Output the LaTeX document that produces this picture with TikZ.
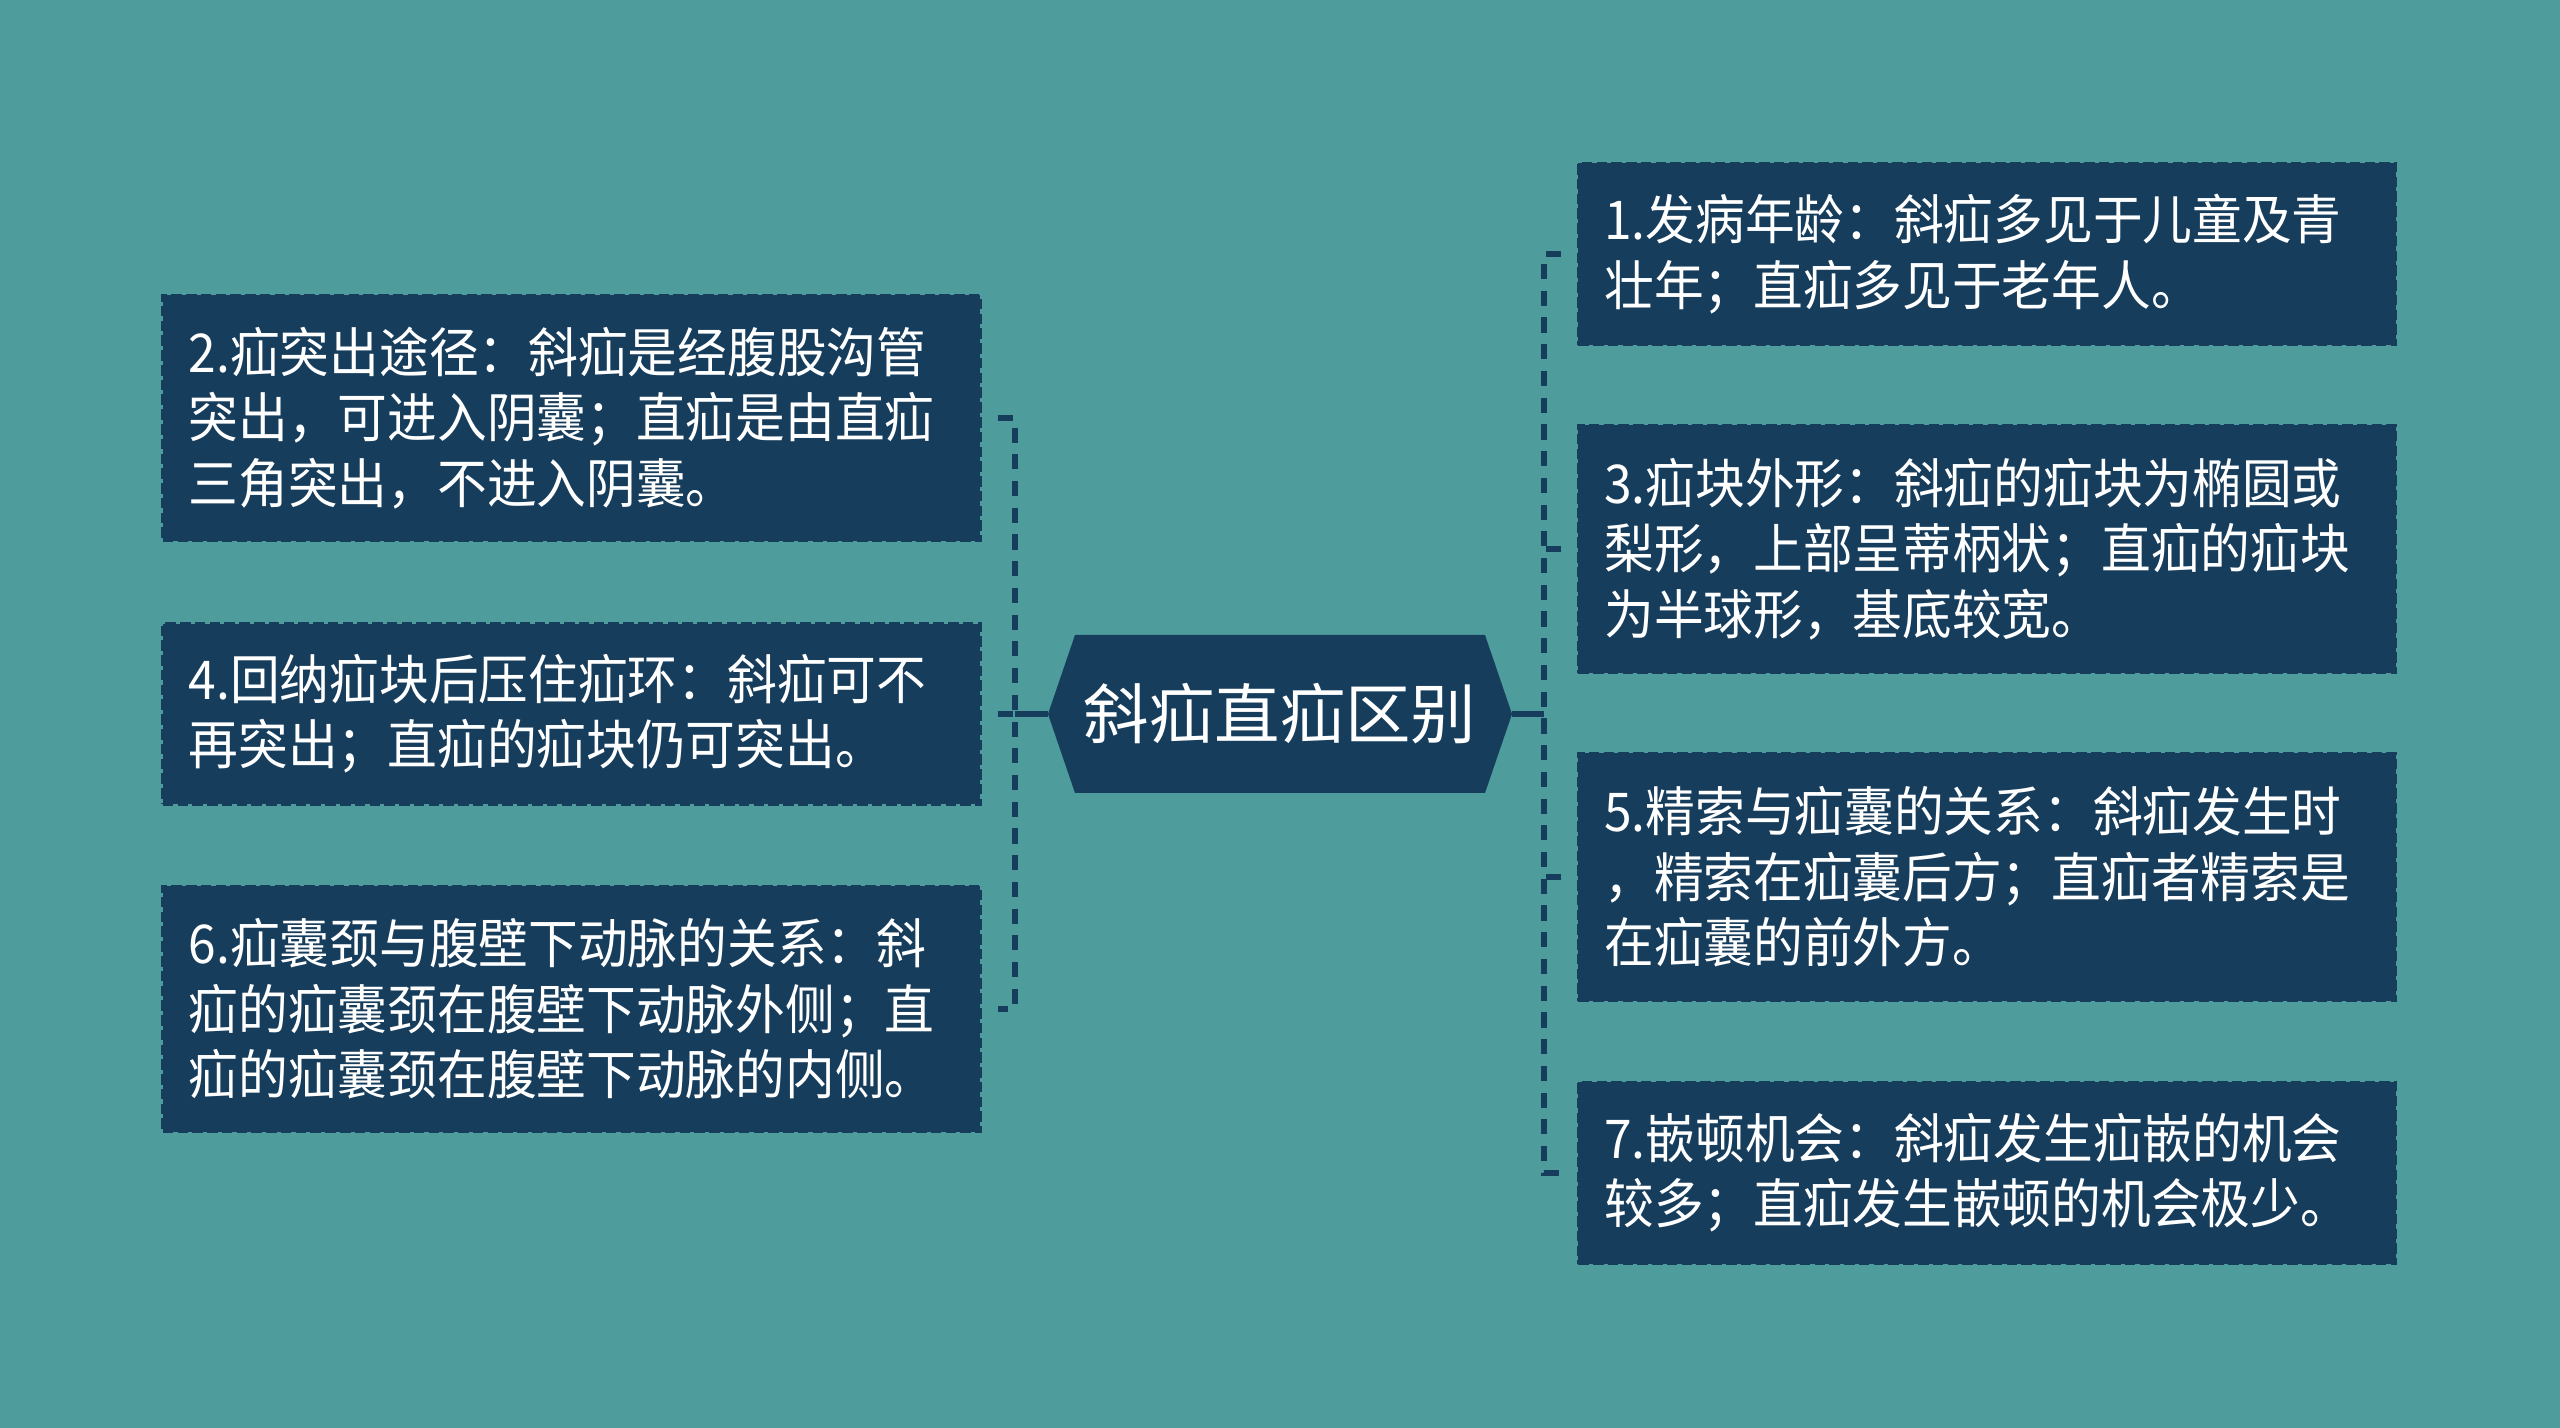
\documentclass[tikz,border=0pt]{standalone}
\usepackage{fontspec}
\newfontfamily\cjk{Noto Sans CJK SC}
\newfontfamily\cjknarrow[FakeStretch=0.93]{Noto Sans CJK SC}
\definecolor{bg}{RGB}{78,156,156}
\definecolor{boxc}{RGB}{23,61,92}
\begin{document}
\begin{tikzpicture}[x=0.01cm,y=-0.01cm,
 item/.style={fill=boxc, draw=boxc, dash pattern=on 3pt off 1.2pt, line width=0.9pt,
   text=white, align=left, text width=7.65cm, inner xsep=0.26cm, inner ysep=0pt,
   font=\cjknarrow\fontsize{15.2}{18.6}\selectfont, anchor=center},
 conn/.style={draw=boxc, line width=1.45pt, dash pattern=on 4.3pt off 3.3pt},
 link/.style={draw=boxc, line width=1.45pt}]
\fill[bg] (0,0) rectangle (2560,1428);
\useasboundingbox (0,0) rectangle (2560,1428);

% center
\coordinate (hl) at (1048,714);
\coordinate (hr) at (1512,714);
\fill[boxc] (hl) -- (1075,635) -- (1485,635) -- (hr) -- (1485,793) -- (1075,793) -- cycle;
\node[text=white, font=\cjk\fontsize{18.6}{22}\selectfont] (c) at (1280,714) {斜疝直疝区别};

% left items
\node[item, minimum height=2.45cm] (b2) at (571.5,418) {2.疝突出途径：斜疝是经腹股沟管\\突出，可进入阴囊；直疝是由直疝\\三角突出，不进入阴囊。};
\node[item, minimum height=1.80cm] (b4) at (571.5,714) {4.回纳疝块后压住疝环：斜疝可不\\再突出；直疝的疝块仍可突出。};
\node[item, minimum height=2.45cm] (b6) at (571.5,1009) {6.疝囊颈与腹壁下动脉的关系：斜\\疝的疝囊颈在腹壁下动脉外侧；直\\疝的疝囊颈在腹壁下动脉的内侧。};

% right items
\node[item, minimum height=1.81cm] (b1) at (1987,254) {1.发病年龄：斜疝多见于儿童及青\\壮年；直疝多见于老年人。};
\node[item, minimum height=2.47cm] (b3) at (1987,549) {3.疝块外形：斜疝的疝块为椭圆或\\梨形，上部呈蒂柄状；直疝的疝块\\为半球形，基底较宽。};
\node[item, minimum height=2.47cm] (b5) at (1987,877) {5.精索与疝囊的关系：斜疝发生时\\，精索在疝囊后方；直疝者精索是\\在疝囊的前外方。};
\node[item, minimum height=1.81cm] (b7) at (1987,1173) {7.嵌顿机会：斜疝发生疝嵌的机会\\较多；直疝发生嵌顿的机会极少。};

% connectors
\coordinate (ls) at (1015,714);
\coordinate (rs) at (1544,714);
\draw[link] (hl) -- (ls);
\draw[link] (hr) -- (rs);
\draw[conn] ([xshift=0.16cm]b2.east) -- (b2.east -| ls) -- (b6.east -| ls) -- ([xshift=0.16cm]b6.east);
\draw[conn] ([xshift=0.16cm]b4.east) -- (ls);
\draw[conn] ([xshift=-0.16cm]b1.west) -- (b1.west -| rs) -- (b7.west -| rs) -- ([xshift=-0.16cm]b7.west);
\draw[conn] ([xshift=-0.16cm]b3.west) -- (b3.west -| rs);
\draw[conn] ([xshift=-0.16cm]b5.west) -- (b5.west -| rs);
\end{tikzpicture}
\end{document}
